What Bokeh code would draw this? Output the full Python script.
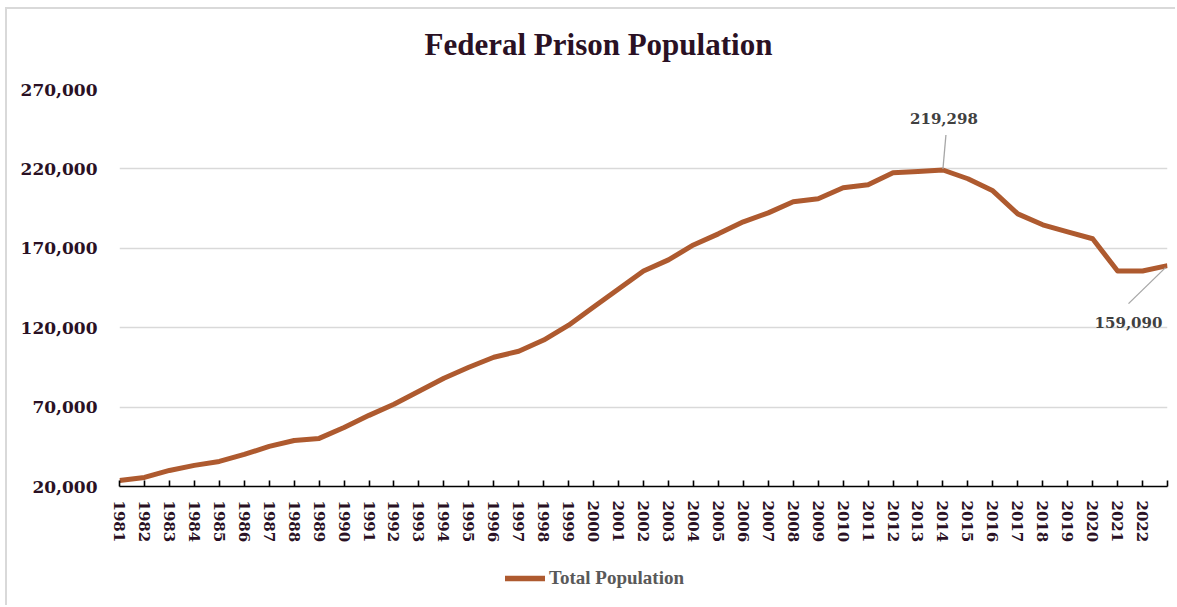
from bokeh.plotting import figure
from bokeh.layouts import column
from bokeh.models import (Range1d, FixedTicker, NumeralTickFormatter, Legend, LegendItem, Title)
from bokeh.core.properties import value
from bokeh.embed import file_html
from bokeh.resources import INLINE

# ---- data -------------------------------------------------------------
years = list(range(1981, 2024))
population = [23800, 25700, 30100, 33300, 35800, 40200, 45300, 49000, 50300, 57200,
              64800, 71800, 80000, 88200, 95100, 101400, 105200, 112200, 121600, 133000,
              144400, 155700, 162700, 172100, 179100, 186700, 192300, 199300, 201200, 208100,
              210000, 217600, 218300, 219298, 213800, 206200, 191700, 184800, 180300, 176000,
              155700, 155700, 159090]
year_labels = [str(y) for y in years[:-1]] + [""]
y_ticks = [20000, 70000, 120000, 170000, 220000, 270000]
title_text = "Federal Prison Population"
series_name = "Total Population"

LINE_COLOR = "#AE5A2F"
NUM_FONT = "DejaVu Serif"
TXT_FONT = "Liberation Serif"
DARK = "#2A1124"
BORDER = "2px solid #d9d9d9"

W = 1170
FRAME_W, FRAME_H = 1048, 397
LEFT, TOP, BOTTOM = 112, 80, 60
H = TOP + FRAME_H + BOTTOM
LEG_H = 607 - 9 - H

p = figure(width=W, height=H, output_backend="svg", toolbar_location=None,
           x_range=Range1d(years[0], years[-1]), y_range=Range1d(y_ticks[0], y_ticks[-1]),
           min_border_left=LEFT, min_border_right=W - LEFT - FRAME_W,
           min_border_top=TOP, min_border_bottom=BOTTOM,
           title=None)
p.margin = (7, 0, 0, 5)
p.styles = {"border-left": BORDER, "border-top": BORDER}
p.outline_line_color = None
p.background_fill_color = "white"
p.border_fill_color = "white"

# spacer title (closest to frame) then real title
p.add_layout(Title(text=" ", text_font_size="10px"), "above")
p.add_layout(Title(text=title_text, align="left", offset=305,
                   text_font=TXT_FONT, text_font_style="bold",
                   text_font_size="31px", text_color=DARK), "above")

# axes
xa = p.xaxis[0]
xa.ticker = FixedTicker(ticks=years)
xa.major_label_overrides = {y: lab for y, lab in zip(years, year_labels)}
xa.major_label_orientation = "vertical"
xa.major_label_text_font = NUM_FONT
xa.major_label_text_font_style = "bold"
xa.major_label_text_font_size = "15px"
xa.major_label_text_color = DARK
xa.major_label_standoff = 14
xa.axis_line_color = "black"
xa.axis_line_width = 1.6
xa.major_tick_in = 6
xa.major_tick_out = 0
xa.major_tick_line_color = "black"
xa.major_tick_line_width = 1.6
xa.minor_tick_line_color = None

ya = p.yaxis[0]
ya.ticker = FixedTicker(ticks=y_ticks)
ya.formatter = NumeralTickFormatter(format="0,0")
ya.axis_line_color = None
ya.major_tick_line_color = None
ya.minor_tick_line_color = None
ya.major_label_standoff = 16
ya.major_label_text_font = NUM_FONT
ya.major_label_text_font_style = "bold"
ya.major_label_text_font_size = "17px"
ya.major_label_text_color = DARK

p.xgrid.grid_line_color = None
p.ygrid.grid_line_color = "#D9D9D9"
p.ygrid.grid_line_width = 1.5

# line
r = p.line(years, population, line_color=LINE_COLOR, line_width=5, line_join="round")

# annotations (peak and last value) with leader lines
px_per_year = FRAME_W / (years[-1] - years[0])
px_per_unit = FRAME_H / (y_ticks[-1] - y_ticks[0])
i_peak = population.index(max(population))
i_last = len(population) - 1
ann_x = [years[i_peak], years[i_last]]
ann_y = [population[i_peak], population[i_last]]
ann_t = [f"{population[i_peak]:,}", f"{population[i_last]:,}"]
p.text(x=ann_x, y=ann_y, text=ann_t, x_offset=[1, -39], y_offset=[-52, 57],
       text_align="center", text_baseline="middle",
       text_font=value(NUM_FONT), text_font_style="bold", text_font_size="15px",
       text_color="#404040")
seg_x0 = [years[i_peak] + 0.0, years[i_last] - 2 / px_per_year]
seg_y0 = [population[i_peak] + 1 / px_per_unit, population[i_last] - 2 / px_per_unit]
seg_x1 = [years[i_peak] + 3 / px_per_year, years[i_last] - 39 / px_per_year]
seg_y1 = [population[i_peak] + 35 / px_per_unit, population[i_last] - 38 / px_per_unit]
p.segment(seg_x0, seg_y0, seg_x1, seg_y1, line_color="#A6A6A6", line_width=1.3)

# ---- legend strip ----------------------------------------------------
p2 = figure(width=W, height=LEG_H, output_backend="svg", toolbar_location=None,
            x_range=Range1d(0, 1), y_range=Range1d(0, 1),
            min_border=0, title=None)
p2.margin = (0, 0, 0, 5)
p2.styles = {"border-left": BORDER}
p2.axis.visible = False
p2.grid.visible = False
p2.outline_line_color = None
# legend proxy renderer (kept outside the visible range)
r2 = p2.line(x=[0, 1], y=[-5, -5], line_color=LINE_COLOR, line_width=5.5, line_cap="round")
legend = Legend(items=[LegendItem(label=series_name, renderers=[r2])],
                location=(386, LEG_H - 34 - 11), orientation="horizontal",
                glyph_width=40, glyph_height=22, label_standoff=4,
                padding=0, margin=0, border_line_color=None, background_fill_alpha=0,
                label_text_font=TXT_FONT, label_text_font_style="bold",
                label_text_font_size="19px", label_text_color="#595959")
p2.add_layout(legend, "center")

layout = column(p, p2, spacing=0)
open("out.html", "w").write(file_html(layout, INLINE))
